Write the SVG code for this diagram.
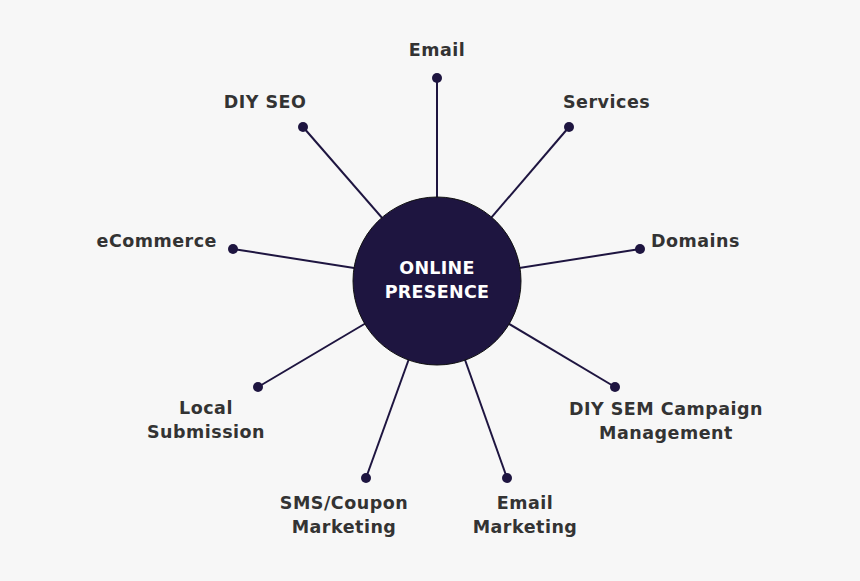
<svg xmlns="http://www.w3.org/2000/svg" width="860" height="581" viewBox="0 0 860 581">
<style>
.l{stroke:#1e1540;stroke-width:2;fill:none}
.d{fill:#1e1540}
.t{font-family:"DejaVu Sans","Liberation Sans",sans-serif;font-weight:bold;font-size:17.5px;letter-spacing:0.5px;fill:#333}
.c{font-family:"DejaVu Sans","Liberation Sans",sans-serif;font-weight:bold;font-size:17.5px;letter-spacing:0.3px;fill:#fff;text-anchor:middle}
</style>
<rect width="860" height="581" fill="#f7f7f7"/>
<g id="connectors">
<line class="l" x1="437" y1="281" x2="437" y2="78"/>
<line class="l" x1="437" y1="281" x2="569" y2="127"/>
<line class="l" x1="437" y1="281" x2="640" y2="249"/>
<line class="l" x1="437" y1="281" x2="615" y2="387"/>
<line class="l" x1="437" y1="281" x2="507" y2="478"/>
<line class="l" x1="437" y1="281" x2="366" y2="478"/>
<line class="l" x1="437" y1="281" x2="258" y2="387"/>
<line class="l" x1="437" y1="281" x2="233" y2="249"/>
<line class="l" x1="437" y1="281" x2="303" y2="127"/>
</g>
<g id="center">
<circle cx="437" cy="281" r="84" fill="#1e1540" stroke="#111" stroke-width="1"/>
<text class="c" x="437" y="274">ONLINE</text>
<text class="c" x="437" y="298">PRESENCE</text>
</g>
<g id="email"><circle class="d" cx="437" cy="78" r="5"/><text class="t" x="437" y="56" text-anchor="middle">Email</text></g>
<g id="services"><circle class="d" cx="569" cy="127" r="5"/><text class="t" x="563" y="108">Services</text></g>
<g id="domains"><circle class="d" cx="640" cy="249" r="5"/><text class="t" x="651" y="247">Domains</text></g>
<g id="diysem"><circle class="d" cx="615" cy="387" r="5"/><text class="t" x="666" y="415" text-anchor="middle">DIY SEM Campaign</text><text class="t" x="666" y="439" text-anchor="middle">Management</text></g>
<g id="emailmarketing"><circle class="d" cx="507" cy="478" r="5"/><text class="t" x="525" y="509" text-anchor="middle">Email</text><text class="t" x="525" y="533" text-anchor="middle">Marketing</text></g>
<g id="sms"><circle class="d" cx="366" cy="478" r="5"/><text class="t" x="344" y="509" text-anchor="middle">SMS/Coupon</text><text class="t" x="344" y="533" text-anchor="middle">Marketing</text></g>
<g id="local"><circle class="d" cx="258" cy="387" r="5"/><text class="t" x="206" y="414" text-anchor="middle">Local</text><text class="t" x="206" y="438" text-anchor="middle">Submission</text></g>
<g id="ecommerce"><circle class="d" cx="233" cy="249" r="5"/><text class="t" x="217" y="247" text-anchor="end">eCommerce</text></g>
<g id="diyseo"><circle class="d" cx="303" cy="127" r="5"/><text class="t" x="265" y="108" text-anchor="middle">DIY SEO</text></g>
</svg>
